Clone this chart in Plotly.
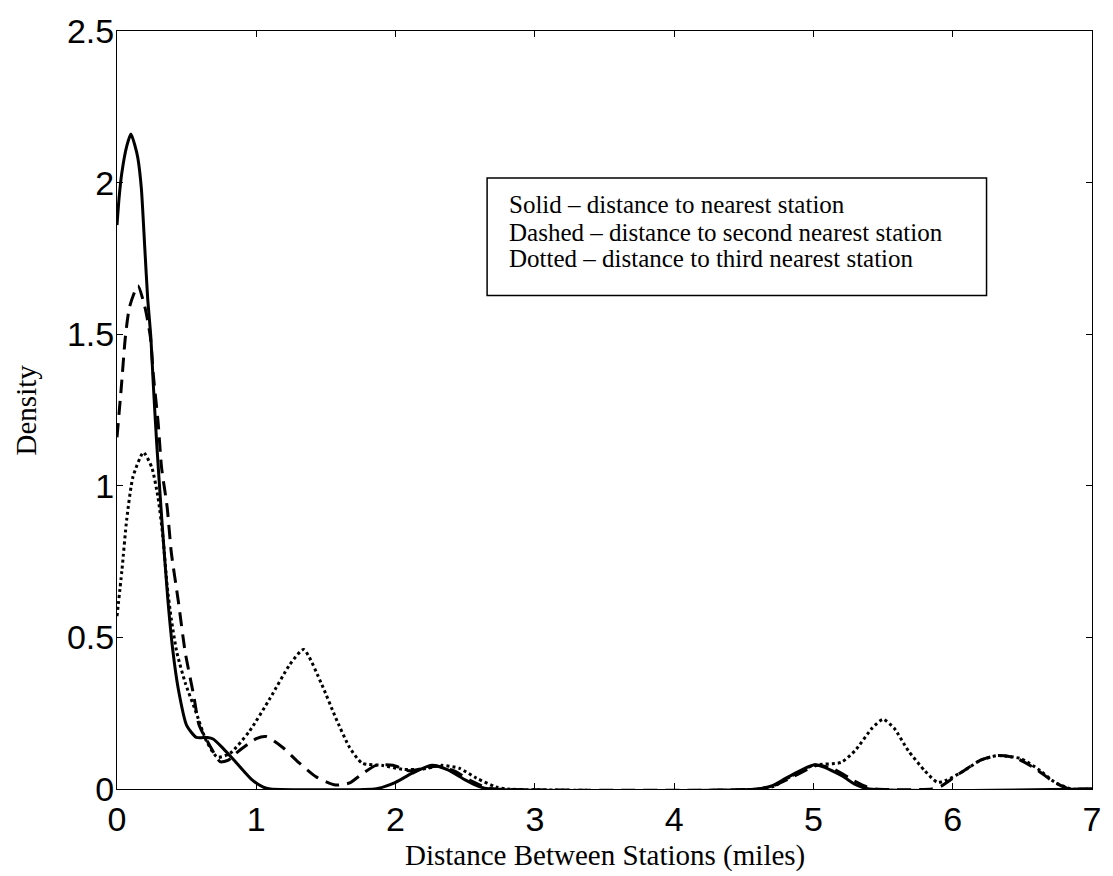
import plotly.graph_objects as go

# ---- data ----
solid_x = [0, 0.015, 0.034, 0.07, 0.1, 0.13, 0.15, 0.175, 0.2, 0.22, 0.243, 0.26, 0.285, 0.32, 0.365,
           0.40, 0.44, 0.5, 0.57, 0.65, 0.69, 0.76, 0.86, 0.97, 1.05, 1.1, 1.85, 1.92, 2.0, 2.12, 2.26,
           2.38, 2.5, 2.6, 2.68, 4.6, 4.7, 4.82, 5.01, 5.2, 5.3, 5.4, 7.0]
solid_y = [1.86, 1.95, 2.03, 2.12, 2.16, 2.12, 2.08, 1.98, 1.78, 1.62, 1.49, 1.34, 1.14, 0.9, 0.625,
           0.46, 0.33, 0.21, 0.17, 0.17, 0.165, 0.135, 0.085, 0.03, 0.006, 0, 0, 0.008, 0.022, 0.052, 0.078,
           0.062, 0.03, 0.008, 0, 0, 0.01, 0.04, 0.08, 0.045, 0.015, 0, 0]

dashed_x = [0, 0.03, 0.06, 0.09, 0.15, 0.2, 0.24, 0.26, 0.295, 0.32, 0.36, 0.39, 0.44, 0.49, 0.55,
            0.59, 0.67, 0.74, 0.8, 0.86, 1.0, 1.07, 1.19, 1.31, 1.43, 1.57, 1.67, 1.76, 1.86, 1.98,
            2.1, 2.22, 2.3, 2.42, 2.55, 2.65, 2.72, 4.6, 4.72, 4.85, 5.03, 5.15, 5.28, 5.38, 5.45,
            5.85, 5.92, 6.03, 6.2, 6.32, 6.45, 6.6, 6.72, 6.82, 6.88, 7.0]
dashed_y = [1.16, 1.32, 1.49, 1.59, 1.66, 1.59, 1.49, 1.37, 1.21, 1.06, 0.93, 0.78, 0.62, 0.45, 0.31,
            0.21, 0.14, 0.09, 0.095, 0.12, 0.166, 0.173, 0.137, 0.085, 0.04, 0.013, 0.02, 0.05, 0.078, 0.078,
            0.06, 0.07, 0.075, 0.06, 0.025, 0.005, 0, 0, 0.012, 0.04, 0.078, 0.065, 0.03, 0.008, 0,
            0, 0.01, 0.045, 0.095, 0.11, 0.103, 0.065, 0.025, 0.003, 0, 0]

dotted_x = [0, 0.035, 0.07, 0.115, 0.19, 0.25, 0.295, 0.33, 0.36, 0.39, 0.43, 0.49, 0.57, 0.64, 0.72,
            0.81, 0.95, 1.1, 1.24, 1.34, 1.47, 1.57, 1.67, 1.76, 1.9, 2.05, 2.19, 2.33, 2.46, 2.58,
            2.72, 2.8, 4.65, 4.72, 4.85, 5.0, 5.2, 5.3, 5.42, 5.5, 5.58, 5.68, 5.8, 5.89, 5.96,
            6.08, 6.2, 6.32, 6.49, 6.63, 6.73, 6.85, 7.0]
dotted_y = [0.57, 0.72, 0.89, 1.03, 1.11, 1.06, 0.96, 0.83, 0.67, 0.56, 0.45, 0.35, 0.25, 0.16, 0.105,
            0.117, 0.19, 0.30, 0.41, 0.46, 0.345, 0.235, 0.137, 0.085, 0.078, 0.065, 0.065, 0.078, 0.068, 0.036,
            0.007, 0, 0, 0.01, 0.045, 0.078, 0.088, 0.127, 0.2, 0.23, 0.2, 0.127, 0.06, 0.022, 0.03,
            0.06, 0.095, 0.11, 0.1, 0.06, 0.023, 0, 0]

x_ticks = [0, 1, 2, 3, 4, 5, 6, 7]
y_ticks = [0, 0.5, 1, 1.5, 2, 2.5]
y_ticktext = ["0", "0.5", "1", "1.5", "2", "2.5"]
legend_lines = [
    "Solid \u2013 distance to nearest station",
    "Dashed \u2013 distance to second nearest station",
    "Dotted \u2013 distance to third nearest station",
]

fig = go.Figure()
fig.add_trace(go.Scatter(x=dotted_x, y=dotted_y, mode="lines",
                         line=dict(color="black", width=3, dash="3px,3px", shape="spline", smoothing=0.6)))
fig.add_trace(go.Scatter(x=dashed_x, y=dashed_y, mode="lines",
                         line=dict(color="black", width=3, dash="14px,8px", shape="spline", smoothing=0.6)))
fig.add_trace(go.Scatter(x=solid_x, y=solid_y, mode="lines",
                         line=dict(color="black", width=3, shape="spline", smoothing=0.6)))

tick_font = dict(family="Liberation Sans, Arial, sans-serif", size=34, color="black")
serif = "Liberation Serif, Times New Roman, serif"

fig.update_layout(
    width=1113, height=876,
    margin=dict(l=117, r=16, t=21, b=87),
    paper_bgcolor="white", plot_bgcolor="white",
    showlegend=False,
    xaxis=dict(range=[0, 7], tickvals=x_ticks, ticktext=[str(v) for v in x_ticks],
               ticks="inside", ticklen=6, tickcolor="black", tickwidth=1,
               showline=True, linecolor="black", linewidth=1, mirror="ticks",
               showgrid=False, zeroline=False, tickfont=tick_font),
    yaxis=dict(range=[0, 2.5], tickvals=y_ticks, ticktext=y_ticktext,
               ticks="inside", ticklen=6, tickcolor="black", tickwidth=1,
               showline=True, linecolor="black", linewidth=1, mirror="ticks",
               showgrid=False, zeroline=False, tickfont=tick_font, ticklabelstandoff=-5),
)

# axis titles
fig.add_annotation(text="Distance Between Stations (miles)", xref="paper", yref="paper",
                   x=0.5, y=(789 - 856) / 768, xanchor="center", yanchor="middle", showarrow=False,
                   font=dict(family=serif, size=29, color="black"))
fig.add_annotation(text="Density", xref="paper", yref="paper",
                   x=(26 - 117) / 980, y=0.5, xanchor="center", yanchor="middle", textangle=-90,
                   showarrow=False, font=dict(family=serif, size=29, color="black"))

# legend box
fig.add_shape(type="rect", xref="paper", yref="paper",
              x0=(489 - 117) / 980, x1=(991 - 117) / 980,
              y0=(789 - 289) / 768, y1=(789 - 170) / 768,
              line=dict(color="black", width=1.5), fillcolor="rgba(0,0,0,0)")
for i, (txt, py) in enumerate(zip(legend_lines, [197, 225, 252])):
    fig.add_annotation(text=txt, xref="paper", yref="paper",
                       x=(509 - 117) / 980, y=(789 - py) / 768, xanchor="left", yanchor="middle",
                       showarrow=False, font=dict(family=serif, size=25, color="black"))

fig.write_html("out.html")
